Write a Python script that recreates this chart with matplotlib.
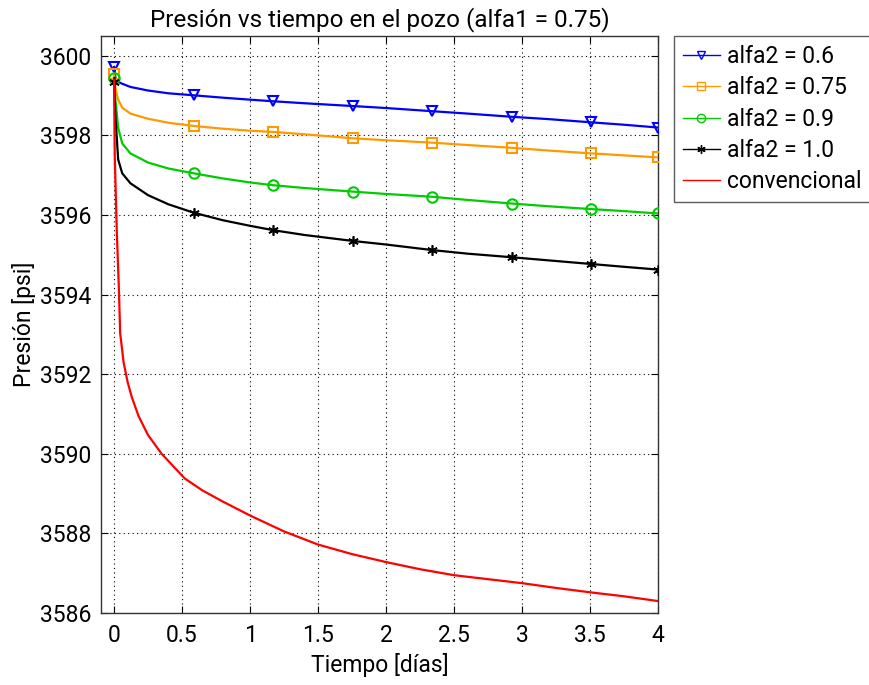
import matplotlib
matplotlib.use("Agg")
import matplotlib.pyplot as plt
from matplotlib.lines import Line2D

# Data
t = [0, 0.01, 0.03, 0.06, 0.12, 0.25, 0.4, 0.585, 0.8, 1.0, 1.17, 1.4, 1.755,
     2.0, 2.34, 2.6, 2.925, 3.2, 3.51, 3.75, 4.0]
mark_idx = [0, 7, 10, 12, 14, 16, 18, 20]

p_06 = [3599.72, 3599.45, 3599.35, 3599.30, 3599.22, 3599.13, 3599.06, 3599.01,
        3598.95, 3598.90, 3598.86, 3598.81, 3598.74, 3598.69, 3598.61, 3598.55,
        3598.47, 3598.41, 3598.33, 3598.27, 3598.20]
p_075 = [3599.55, 3599.20, 3598.90, 3598.70, 3598.55, 3598.42, 3598.32, 3598.24,
         3598.17, 3598.12, 3598.09, 3598.03, 3597.93, 3597.88, 3597.82, 3597.76,
         3597.69, 3597.62, 3597.55, 3597.50, 3597.45]
p_09 = [3599.45, 3598.90, 3598.20, 3597.80, 3597.55, 3597.32, 3597.17, 3597.05,
        3596.92, 3596.82, 3596.75, 3596.68, 3596.59, 3596.53, 3596.46, 3596.38,
        3596.29, 3596.22, 3596.15, 3596.10, 3596.04]
p_10 = [3599.35, 3598.50, 3597.40, 3597.05, 3596.80, 3596.50, 3596.27, 3596.06,
        3595.87, 3595.73, 3595.62, 3595.50, 3595.35, 3595.26, 3595.12, 3595.03,
        3594.94, 3594.86, 3594.77, 3594.70, 3594.63]

t_conv = [0, 0.005, 0.02, 0.035, 0.045, 0.07, 0.1, 0.13, 0.18, 0.25, 0.35, 0.52,
          0.65, 0.8, 1.0, 1.25, 1.5, 1.75, 2.0, 2.25, 2.5, 2.75, 3.0, 3.25,
          3.5, 3.75, 4.0]
p_conv = [3599.40, 3597.50, 3595.60, 3594.20, 3593.03, 3592.30, 3591.80, 3591.43,
          3590.95, 3590.47, 3590.00, 3589.38, 3589.08, 3588.80, 3588.45, 3588.05,
          3587.72, 3587.48, 3587.28, 3587.10, 3586.95, 3586.85, 3586.75, 3586.63,
          3586.52, 3586.42, 3586.30]

labels = ["alfa2 = 0.6", "alfa2 = 0.75", "alfa2 = 0.9", "alfa2 = 1.0", "convencional"]
colors = ["#0000ff", "#ff9900", "#00cc00", "#000000", "#ff0000"]
markers = ["v", "s", "o", (6, 2, 0), None]

xticks = [0, 0.5, 1, 1.5, 2, 2.5, 3, 3.5, 4]
xticklabels = ["0", "0.5", "1", "1.5", "2", "2.5", "3", "3.5", "4"]
yticks = [3586, 3588, 3590, 3592, 3594, 3596, 3598, 3600]

plt.rcParams['font.family'] = ['Roboto', 'DejaVu Sans']
FS = 16.5
fig = plt.figure(figsize=(8.7, 6.85), dpi=100)
ax = fig.add_axes([101/870, 1-613/685, (658-101)/870, (613-36)/685])

series = [p_06, p_075, p_09, p_10]
mews = [1.5, 1.5, 1.5, 1.2]
for i, ys in enumerate(series):
    ax.plot(t, ys, color=colors[i], lw=1.6, marker=markers[i], markevery=mark_idx,
            markersize=7.5, markerfacecolor='none', markeredgewidth=mews[i], zorder=3)
ax.plot(t_conv, p_conv, color=colors[4], lw=1.6, zorder=3)

ax.set_xlim(-0.096, 4.0)
ax.set_ylim(3586, 3600.5)
ax.set_xticks(xticks)
ax.set_xticklabels(xticklabels)
ax.set_yticks(yticks)
ax.tick_params(direction='in', length=5, top=True, right=True, labelsize=FS)
ax.tick_params(axis='x', pad=8)
ax.tick_params(axis='y', pad=7)
ax.grid(True, color='black', linestyle=(0, (1, 3)), linewidth=0.8)
for s in ax.spines.values():
    s.set_color('#333333')
    s.set_linewidth(1.0)

ax.set_title("Presión vs tiempo en el pozo (alfa1 = 0.75)", fontsize=17.5, pad=7)
ax.set_xlabel("Tiempo [días]", fontsize=FS, labelpad=4)
ax.set_ylabel("Presión [psi]", fontsize=FS, labelpad=3)

handles = []
for i in range(5):
    handles.append(Line2D([], [], color=colors[i], lw=1.0, marker=markers[i],
                          markersize=6, markerfacecolor='none', markeredgewidth=1.0))
leg = fig.legend(handles, labels, loc='upper left',
                 bbox_to_anchor=(674/870, 1-36/685), fontsize=FS,
                 frameon=True, fancybox=False, borderaxespad=0,
                 handlelength=1.6, handletextpad=0.3, borderpad=0.4,
                 labelspacing=0.36)
leg.get_frame().set_edgecolor('#333333')
leg.get_frame().set_linewidth(1.0)

fig.savefig("out.png", dpi=100)
